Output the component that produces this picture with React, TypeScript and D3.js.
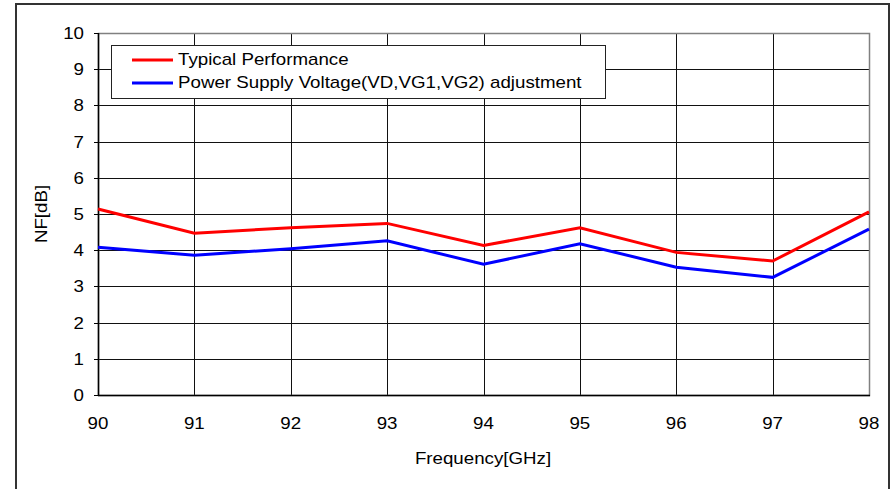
import React, { useEffect, useRef } from 'react';
import * as d3 from 'd3';

const freqs = [90, 91, 92, 93, 94, 95, 96, 97, 98];
const typical = [5.14, 4.47, 4.62, 4.74, 4.13, 4.62, 3.94, 3.7, 5.06];
const adjusted = [4.08, 3.86, 4.04, 4.26, 3.61, 4.18, 3.53, 3.25, 4.58];
const yTicks = [0, 1, 2, 3, 4, 5, 6, 7, 8, 9, 10];
const seriesNames = ['Typical Performance', 'Power Supply Voltage(VD,VG1,VG2) adjustment'];
const seriesColors = ['#ff0000', '#0000ff'];

const W = 894;
const H = 489;
const SX = 1.17; // the original text is a bit wider than Arial

const App: React.FC = () => {
  const svgRef = useRef<SVGSVGElement>(null);

  useEffect(() => {
    if (!svgRef.current) return;
    const svg = d3.select(svgRef.current);
    svg.selectAll('*').remove();

    const font = 'Liberation Sans, Arial, sans-serif';
    const left = 98, right = 869, top = 33, bottom = 395;

    const x = d3.scaleLinear().domain([90, 98]).range([left, right]);
    const y = d3.scaleLinear().domain([0, 10]).range([bottom, top]);

    const label = (parent: any, tx: number, ty: number, txt: string, anchor: string, rot = 0) =>
      parent.append('text')
        .attr('transform', `translate(${tx},${ty}) rotate(${rot}) scale(${SX},1)`)
        .attr('text-anchor', anchor)
        .style('font-family', font).style('font-size', '16px')
        .text(txt);

    // outer chart frame
    svg.append('rect')
      .attr('x', 16).attr('y', 4)
      .attr('width', 873).attr('height', 500)
      .attr('fill', 'white')
      .attr('stroke', '#333').attr('stroke-width', 2);

    // grid
    const g = svg.append('g');
    g.selectAll('line.h')
      .data(yTicks.slice(1, -1))
      .join('line')
      .attr('x1', left).attr('x2', right)
      .attr('y1', d => Math.round(y(d)) + 0.5).attr('y2', d => Math.round(y(d)) + 0.5)
      .attr('stroke', '#111').attr('stroke-width', 1);
    g.selectAll('line.v')
      .data(freqs.slice(1, -1))
      .join('line')
      .attr('x1', d => Math.round(x(d)) + 0.5).attr('x2', d => Math.round(x(d)) + 0.5)
      .attr('y1', top).attr('y2', bottom)
      .attr('stroke', '#111').attr('stroke-width', 1);

    // plot border
    g.append('rect')
      .attr('x', left + 0.5).attr('y', top + 0.5)
      .attr('width', right - left).attr('height', bottom - top)
      .attr('fill', 'none').attr('stroke', '#808080').attr('stroke-width', 1.5);
    g.append('line').attr('x1', left + 0.5).attr('x2', left + 0.5).attr('y1', top).attr('y2', bottom + 1)
      .attr('stroke', '#000').attr('stroke-width', 1.5);
    g.append('line').attr('x1', left).attr('x2', right + 1).attr('y1', bottom + 0.5).attr('y2', bottom + 0.5)
      .attr('stroke', '#000').attr('stroke-width', 1.5);

    // y tick marks + labels
    g.selectAll('line.yt')
      .data(yTicks)
      .join('line')
      .attr('x1', left - 4).attr('x2', left)
      .attr('y1', d => Math.round(y(d)) + 0.5).attr('y2', d => Math.round(y(d)) + 0.5)
      .attr('stroke', '#000');
    yTicks.forEach(t => label(g, 84, y(t) + 6, String(t), 'end'));
    freqs.forEach(f => label(g, x(f), 429, String(f), 'middle'));

    label(svg, 483, 464, 'Frequency[GHz]', 'middle');
    label(svg, 47, 214, 'NF[dB]', 'middle', -90);

    // series
    const line = d3.line<number>().x((_, i) => x(freqs[i])).y(d => y(d));
    [typical, adjusted].forEach((vals, k) => {
      g.append('path')
        .datum(vals)
        .attr('d', line)
        .attr('fill', 'none')
        .attr('stroke', seriesColors[k])
        .attr('stroke-width', 3)
        .attr('stroke-linejoin', 'miter');
    });

    // legend
    const lg = svg.append('g');
    lg.append('rect')
      .attr('x', 111.5).attr('y', 45.5)
      .attr('width', 494).attr('height', 53)
      .attr('fill', 'white').attr('stroke', '#222').attr('stroke-width', 1);
    seriesNames.forEach((name, k) => {
      const ly = 60 + k * 23;
      lg.append('line')
        .attr('x1', 132).attr('x2', 173)
        .attr('y1', ly).attr('y2', ly)
        .attr('stroke', seriesColors[k]).attr('stroke-width', 3);
      label(lg, 178, ly + 4.5, name, 'start');
    });
  }, []);

  return (
    <svg ref={svgRef} width={W} height={H}
      style={{ position: 'absolute', left: 0, top: 0, background: 'white' }} />
  );
};

export default App;
